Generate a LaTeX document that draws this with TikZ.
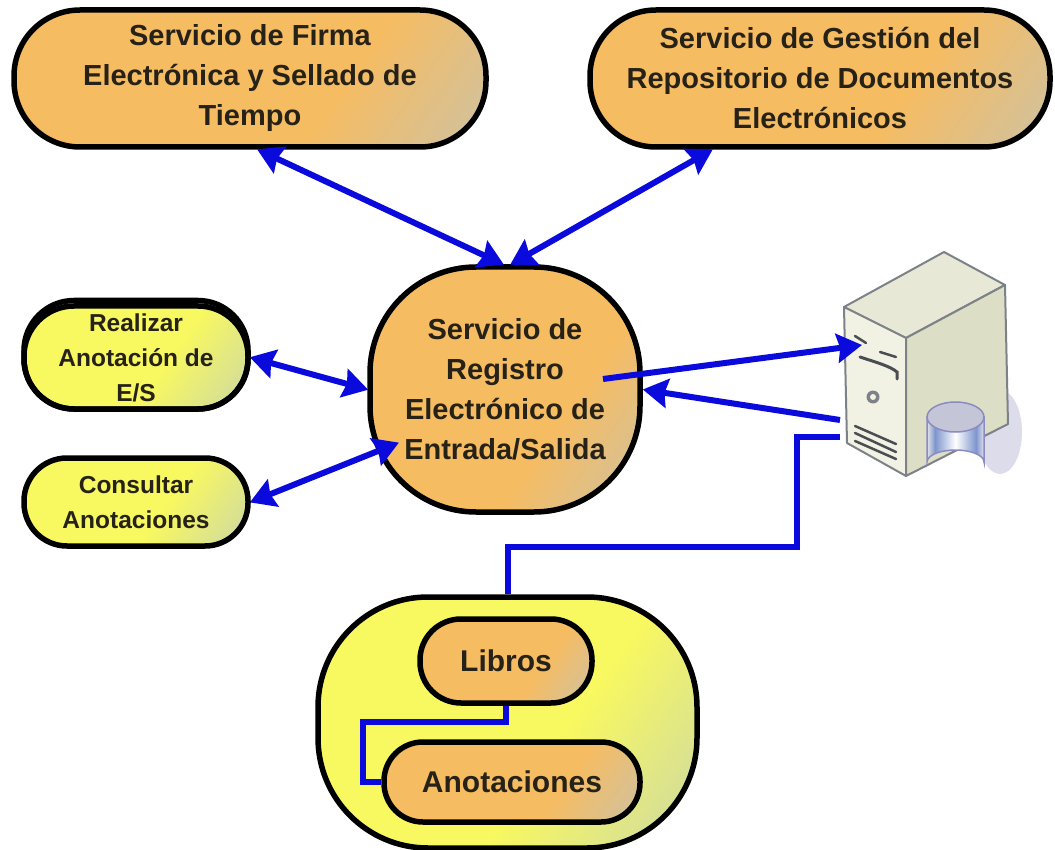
\documentclass[tikz,border=0pt]{standalone}
\usepackage{fontspec}
\setmainfont{Liberation Sans}
\usetikzlibrary{arrows.meta}
\definecolor{ora}{HTML}{F6BC62}
\definecolor{yel}{HTML}{F8F860}
\definecolor{gry}{HTML}{B4C6CC}
\definecolor{ink}{HTML}{262218}
\definecolor{blu}{HTML}{0A0ADC}
\definecolor{srvA}{HTML}{E8E8D6}
\definecolor{srvB}{HTML}{DDDEC6}
\definecolor{srvC}{HTML}{F2F2E4}
\definecolor{srvE}{HTML}{7C8288}
\pgfdeclarehorizontalshading{orashade}{100bp}{color(0bp)=(ora);color(62bp)=(ora);color(100bp)=(gry)}
\pgfdeclarehorizontalshading{yelshade}{100bp}{color(0bp)=(yel);color(58bp)=(yel);color(100bp)=(gry)}
\pgfdeclarehorizontalshading{cylshade}{100bp}{color(0bp)=(blue!10!gray!20!white);color(25bp)=(blue!10!gray!20!white);color(32bp)=(cyan!30!blue!45!gray!70!white);color(50bp)=(white);color(68bp)=(cyan!30!blue!45!gray!70!white);color(75bp)=(blue!10!gray!20!white);color(100bp)=(blue!10!gray!20!white)}
\tikzset{
  svc/.style={draw=black,line width=5.5pt,inner sep=0pt,shading=orashade,shading angle=-35,align=center,text=ink,font=\bfseries\fontsize{#1}{40}\selectfont},
  svc/.default=29,
  act/.style={draw=black,line width=5.5pt,inner sep=0pt,shading=yelshade,shading angle=-35,align=center,text=ink,font=\bfseries\fontsize{24.5}{35}\selectfont},
  bline/.style={draw=blu,line width=6pt},
  barrow/.style={bline,{Stealth[inset=3pt,length=25pt,width=29pt]}-{Stealth[inset=3pt,length=25pt,width=29pt]},shorten >=-1pt,shorten <=-1pt},
  sarrow/.style={bline,-{Stealth[inset=3pt,length=25pt,width=29pt]}},
  slot/.style={draw=srvE!60!black,line width=2.5pt,line cap=round},
  srvline/.style={draw=srvE,line width=2pt,line join=round}
}
\begin{document}
\begin{tikzpicture}[x=1pt,y=-1pt]
\useasboundingbox (0,0) rectangle (1055,850);
\fill[white] (0,0) rectangle (1055,850);

% server
\fill[blue!25!gray!22!white] (1000,432) ellipse (22 and 42);
\path[srvline,fill=srvA] (844,307) -- (944,252) -- (1005,285) -- (906,338) -- cycle;
\path[srvline,fill=srvC] (844,307) -- (906,338) -- (906,476) -- (847,443) -- cycle;
\path[srvline,fill=srvB] (906,338) -- (1005,285) -- (1008,424) -- (906,476) -- cycle;
\draw[slot] (855,336) -- (866,343);
\draw[slot] (880,352) -- (896,357);
\draw[slot,line width=3pt] (860,357) .. controls (875,362) and (890,366) .. (897,372) -- (897,379);
\draw[slot] (855,426) -- (896,444);
\draw[slot] (855,433) -- (896,452);
\draw[slot] (855,441) -- (896,459);
\fill[srvE] (873,397) circle (6.5);
\fill[srvC] (873,397) circle (3);
\path[draw=blue!30!gray!70!white,line width=1.5pt,shading=cylshade] (927,417) -- (927,462) arc[start angle=180,end angle=360,x radius=28.5,y radius=12] -- (984,417) -- cycle;
\path[draw=blue!30!gray!70!white,line width=1.5pt,fill=blue!20!gray!38!white] (955.5,417) ellipse (28.5 and 15);

% nodes
\node[svc,minimum width=472pt,minimum height=137pt,rounded corners=66pt] (firma) at (250,78.5) {Servicio de Firma\\Electrónica y Sellado de\\Tiempo};
\node[svc,minimum width=460pt,minimum height=137pt,rounded corners=66pt] (gestion) at (820,78.5) {Servicio de Gestión del\\Repositorio de Documentos\\Electrónicos};
\node[svc,minimum width=270pt,minimum height=245pt,rounded corners=106pt] (reg) at (505,389.5) {Servicio de\\Registro\\Electrónico de\\Entrada/Salida};
\node[act,minimum width=224pt,minimum height=103pt,rounded corners=50pt] (anot) at (136,357.5) {Realizar\\Anotación de\\E/S};
\draw[line width=5.5pt,rounded corners=50pt] (anot.south west) ++(2.75,-2.75) rectangle ([shift={(-2.75pt,2.75pt)}]anot.north east);
\node[act,minimum width=224pt,minimum height=88pt,rounded corners=43pt] (cons) at (136,502) {Consultar\\Anotaciones};
\node[draw=black,line width=5.5pt,inner sep=0pt,shading=yelshade,shading angle=-35,minimum width=379pt,minimum height=251pt,rounded corners=110pt] (bd) at (507.5,722.5) {};
\node[svc=30,minimum width=172pt,minimum height=84pt,rounded corners=41pt] (lib) at (506,661) {Libros};
\node[svc=30,minimum width=256pt,minimum height=80pt,rounded corners=39pt] (ano) at (512,782) {Anotaciones};

% connector ends on the server
\coordinate (srvIn) at (862,345);
\coordinate (srvOut) at (840,420);
\coordinate (srvBus) at (840,437);
\coordinate (regOut) at (603,379);
\coordinate (regIn) at (398,443);

% connectors
\draw[barrow] ([xshift=8pt]firma.south) -- ([xshift=-2pt]reg.north);
\draw[barrow] ([xshift=-108pt]gestion.south) -- ([xshift=6pt]reg.north);
\draw[barrow] (anot.east) -- (reg.west);
\draw[barrow] (cons.east) -- (regIn);
\draw[sarrow] (regOut) -- (srvIn);
\draw[sarrow] (srvOut) -- (reg.east);
\draw[bline] (srvBus) -| (797,547) -| (bd.north);
\draw[bline] (lib.south) |- (363,722) |- (ano.west);
\end{tikzpicture}
\end{document}
